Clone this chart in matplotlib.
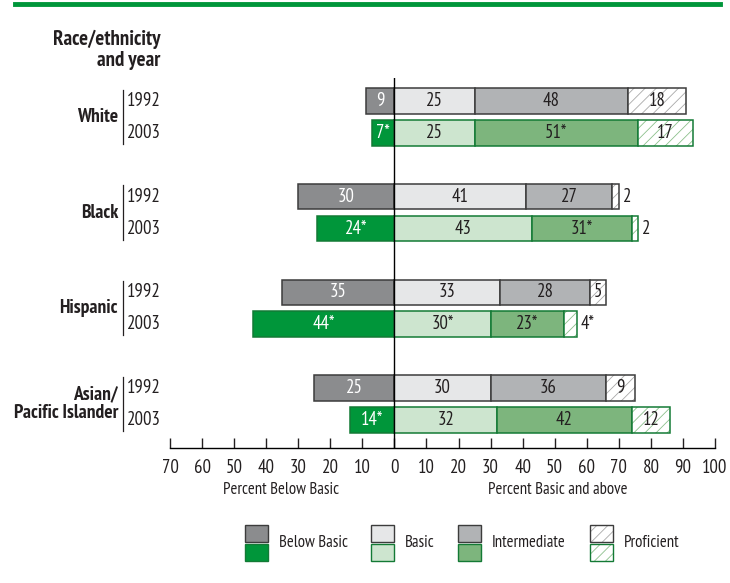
import matplotlib
matplotlib.use("Agg")
import matplotlib.pyplot as plt
from matplotlib.patches import Rectangle
from matplotlib.lines import Line2D
from matplotlib.transforms import blended_transform_factory

plt.rcParams["font.family"] = ["PT Sans Narrow", "DejaVu Sans"]
plt.rcParams["hatch.linewidth"] = 0.6

# data
groups = ["White", "Black", "Hispanic", "Asian/\nPacific Islander"]
years = ["1992", "2003"]
levels = ["Below Basic", "Basic", "Intermediate", "Proficient"]

below_basic = [9, 7, 30, 24, 35, 44, 25, 14]
basic = [25, 25, 41, 43, 33, 30, 30, 32]
intermediate = [48, 51, 27, 31, 28, 23, 36, 42]
proficient = [18, 17, 2, 2, 5, 4, 9, 12]

below_basic_lbl = ["9", "7*", "30", "24*", "35", "44*", "25", "14*"]
basic_lbl = ["25", "25", "41", "43", "33", "30*", "30", "32"]
intermediate_lbl = ["48", "51*", "27", "31*", "28", "23*", "36", "42"]
proficient_lbl = ["18", "17", "2", "2", "5", "4*", "9", "12"]

x_ticks = [-70, -60, -50, -40, -30, -20, -10, 0, 10, 20, 30, 40, 50, 60, 70, 80, 90, 100]

# styles per year
fills = {
    "1992": ["#8b8c8e", "#e6e7e8", "#b1b3b5", "white"],
    "2003": ["#00963a", "#cde5cf", "#7db57d", "white"],
}
edges = {"1992": "#3c3c3c", "2003": "#137a35"}
hatch_col = {"1992": "#a8a8a8", "2003": "#8cc08c"}
text_col = ["white", "#231f20", "#231f20", "#231f20"]
dark = "#231f20"

W, H = 730, 583
fig = plt.figure(figsize=(W / 100, H / 100), dpi=100)
ax = fig.add_axes([170 / W, 1 - 448 / H, 545 / W, 370 / H])

ypos = []
for g in range(len(groups)):
    ypos += [g * 3, g * 3 + 1]

bh = 0.8
fs = 13.5
for i, y in enumerate(ypos):
    yr = years[i % 2]
    fc = fills[yr]
    ec = edges[yr]
    # below basic goes left of zero
    ax.barh(y, -below_basic[i], height=bh, color=fc[0], edgecolor=ec, linewidth=1.1)
    ax.text(-below_basic[i] / 2, y, below_basic_lbl[i], ha="center", va="center",
            color=text_col[0], fontsize=fs)
    left = 0
    vals = [basic[i], intermediate[i], proficient[i]]
    lbls = [basic_lbl[i], intermediate_lbl[i], proficient_lbl[i]]
    for k, (v, lb) in enumerate(zip(vals, lbls)):
        if k == 2:
            ax.barh(y, v, left=left, height=bh, color="white", edgecolor=hatch_col[yr],
                    hatch="///", linewidth=0)
            ax.barh(y, v, left=left, height=bh, fill=False, edgecolor=ec, linewidth=1.1)
        else:
            ax.barh(y, v, left=left, height=bh, color=fc[k + 1], edgecolor=ec, linewidth=1.1)
        if v < 5:
            ax.text(left + v + 1.2, y, lb, ha="left", va="center", color=dark, fontsize=fs)
        else:
            ax.text(left + v / 2, y, lb, ha="center", va="center", color=text_col[k + 1],
                    fontsize=fs)
        left += v

ax.axvline(0, color="black", linewidth=1)
ax.set_xlim(-70, 100)
ax.set_ylim(10.88, -0.72)
ax.set_xticks(x_ticks)
ax.set_xticklabels([str(abs(t)) for t in x_ticks], fontsize=fs)
ax.tick_params(axis="x", direction="in", length=7, width=1, pad=8, colors=dark)
ax.set_yticks([])
for s in ["top", "right", "left"]:
    ax.spines[s].set_visible(False)
ax.spines["bottom"].set_linewidth(1)

ax.text(-35.5, 11.95, "Percent Below Basic", ha="center", va="top", fontsize=12, color=dark)
ax.text(51, 11.95, "Percent Basic and above", ha="center", va="top", fontsize=12, color=dark)

# row labels on the left
tr = blended_transform_factory(fig.transFigure, ax.transData)
for g, name in enumerate(groups):
    y0, y1 = g * 3, g * 3 + 1
    ax.text(118 / W, (y0 + y1) / 2, name, transform=tr, ha="right", va="center",
            fontsize=14, fontweight="bold", color=dark, linespacing=1.05)
    ax.text(127 / W, y0, years[0], transform=tr, ha="left", va="center", fontsize=fs, color=dark)
    ax.text(127 / W, y1, years[1], transform=tr, ha="left", va="center", fontsize=fs, color=dark)
    ax.add_line(Line2D([123 / W, 123 / W], [y0 - 0.35, y1 + 0.35], transform=tr,
                       color=dark, linewidth=0.9, clip_on=False))

fig.text(160 / W, 1 - 50 / H, "Race/ethnicity\nand year", ha="right", va="center",
         fontsize=15, fontweight="bold", color=dark, linespacing=1.1)

# green rule at the top
fig.add_artist(Line2D([15 / W, 720 / W], [1 - 4 / H, 1 - 4 / H], color="#00963a", linewidth=3.5))

# legend: stacked swatches, 1992 on top and 2003 below
leg_x = [245, 371, 458, 590]
for k, name in enumerate(levels):
    for j, yr in enumerate(years):
        top = 525 + j * 19
        rect_args = dict(xy=(leg_x[k] / W, 1 - (top + 17) / H), width=23 / W, height=17 / H,
                         transform=fig.transFigure)
        if k == 3:
            fig.add_artist(Rectangle(**rect_args, facecolor="white", edgecolor=hatch_col[yr],
                                     hatch="///", linewidth=0))
            fig.add_artist(Rectangle(**rect_args, fill=False, edgecolor=edges[yr], linewidth=1))
        else:
            fig.add_artist(Rectangle(**rect_args, facecolor=fills[yr][k], edgecolor=edges[yr],
                                     linewidth=1))
    fig.text((leg_x[k] + 34) / W, 1 - 543 / H, name, ha="left", va="center", fontsize=12,
             color=dark)

fig.savefig("out.png", dpi=100)
